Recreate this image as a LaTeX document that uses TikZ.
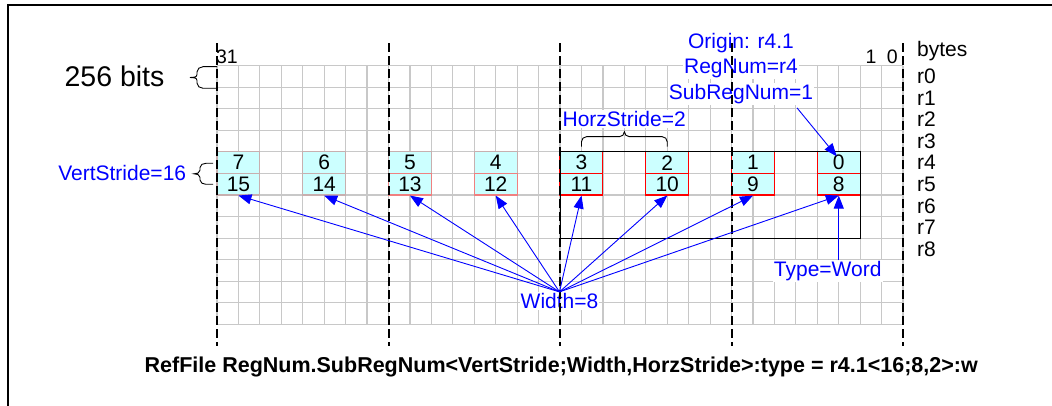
\documentclass[tikz,border=0pt]{standalone}
\usepackage{fontspec}
\setmainfont{Liberation Sans}
\usetikzlibrary{arrows.meta}
\definecolor{gridc}{RGB}{200,200,200}
\definecolor{cellfill}{RGB}{204,255,255}
\definecolor{bdA}{RGB}{200,175,175}
\definecolor{bdB}{RGB}{240,128,128}
\definecolor{bdC}{RGB}{255,0,0}
\definecolor{lblue}{RGB}{0,0,255}
\begin{document}
\begin{tikzpicture}[x=1pt,y=1pt,
  cell/.style={rectangle, minimum width=42.88pt, minimum height=21.55pt, inner sep=0pt, fill=cellfill, draw, line width=1.1pt, font=\fontsize{21}{25}\selectfont},
  lbl/.style={font=\fontsize{21}{25}\selectfont, inner sep=0pt},
  bl/.style={lbl, text=lblue},
  wbl/.style={bl, fill=white, inner sep=1pt},
  arr/.style={draw=lblue, line width=0.9pt, -{Triangle[length=13pt,width=10pt]}},
  vdash/.style={line width=2pt, dash pattern=on 9pt off 4pt},
  brc/.style={line width=0.9pt},
  gline/.style={gridc, line width=1.2pt}
]
\useasboundingbox (0,0) rectangle (1052,-406);
\fill[white] (0,0) rectangle (1052,-406);
% frame
\draw[line width=2pt] (8,-406) -- (8,-5) -- (1052,-5);
% grid
\foreach \i in {0,...,32} \draw[gline] (217+21.44*\i,-65.7) -- (217+21.44*\i,-324.3);
\foreach \j in {0,...,12} \draw[gline] (217,-65.7-21.55*\j) -- (903.08,-65.7-21.55*\j);
% cells
\node[cell, draw=bdC] (e0) at (838.76,-162.68) {0};
\node[cell, draw=bdC] (e1) at (753.00,-162.68) {1};
\node[cell, draw=bdC] (e2) at (667.24,-162.68) {2};
\node[cell, draw=bdC] (e3) at (581.48,-162.68) {3};
\node[cell, draw=bdA] (e4) at (495.72,-162.68) {4};
\node[cell, draw=bdA] (e5) at (409.96,-162.68) {5};
\node[cell, draw=bdA] (e6) at (324.20,-162.68) {6};
\node[cell, draw=bdA] (e7) at (238.44,-162.68) {7};
\node[cell, draw=bdC] (e8) at (838.76,-184.23) {8};
\node[cell, draw=bdC] (e9) at (753.00,-184.23) {9};
\node[cell, draw=bdC] (e10) at (667.24,-184.23) {10};
\node[cell, draw=bdC] (e11) at (581.48,-184.23) {11};
\node[cell, draw=bdB] (e12) at (495.72,-184.23) {12};
\node[cell, draw=bdB] (e13) at (409.96,-184.23) {13};
\node[cell, draw=bdA] (e14) at (324.20,-184.23) {14};
\node[cell, draw=bdA] (e15) at (238.44,-184.23) {15};
% labels with white background
\node[wbl, anchor=base] (hs) at (624.2,-126.7) {HorzStride=2};
\node[wbl, anchor=base] (orig1) at (741,-48.3) {Origin: r4.1};
\node[wbl, anchor=base] (orig2) at (741,-73.3) {RegNum=r4};
\node[wbl, anchor=base] (orig3) at (741,-99.3) {SubRegNum=1};
\node[wbl, anchor=base] (tw) at (827.7,-276.7) {Type=Word};
\node[wbl, anchor=base] (w8) at (559.5,-308.3) {Width=8};
% dashed byte-group lines
\foreach \i in {0,8,16,24,32} \draw[vdash] (217+21.44*\i,-43.3) -- (217+21.44*\i,-345.5);
% black region box
\draw[line width=1pt] (560.04,-151.9) rectangle (860.2,-238.1);
% other labels
\node[lbl, anchor=base, font=\fontsize{28.5}{30}\selectfont] (b256) at (114.5,-86.7) {256 bits};
\node[bl, anchor=base] (vs) at (122.2,-181) {VertStride=16};
\node[lbl, anchor=base, font=\fontsize{19.5}{22}\selectfont] (b31) at (227,-63.3) {31};
\node[lbl, anchor=base, font=\fontsize{19.5}{22}\selectfont] (b1) at (871,-63.3) {1};
\node[lbl, anchor=base, font=\fontsize{19.5}{22}\selectfont] (b0) at (892.4,-63.3) {0};
\node[lbl, anchor=base west] (bytes) at (917,-57) {bytes};
\foreach \j in {0,...,8} \node[lbl, anchor=west] (r\j) at (917,-76.475-21.55*\j) {r\j};
\node[lbl, anchor=base, font=\bfseries\fontsize{21.5}{25}\selectfont] (title) at (561.2,-372.7) {RefFile RegNum.SubRegNum<VertStride;Width,HorzStride>:type = r4.1<16;8,2>:w};
% braces
\draw[brc] (217,-66.7) -- (203,-66.7) to[out=180,in=90] (197,-72) -- (197,-74.5) to[out=270,in=0] (190,-77.5) to[out=0,in=90] (197,-80.5) -- (197,-83) to[out=270,in=180] (203,-88.3) -- (217,-88.3);
\draw[brc] (213,-163.3) -- (206,-163.3) to[out=180,in=90] (200,-167.5) -- (200,-170.3) to[out=270,in=0] (194,-173.8) to[out=0,in=90] (200,-177.3) -- (200,-180) to[out=270,in=180] (206,-184.3) -- (213,-184.3);
\draw[brc] (581.5,-146.7) -- (581.5,-141.7) to[out=90,in=180] (586.5,-136.7) -- (619.4,-136.7) to[out=0,in=270] (624.4,-131.7) to[out=270,in=180] (629.4,-136.7) -- (662.2,-136.7) to[out=0,in=90] (667.2,-141.7) -- (667.2,-146.7);
% arrows
\foreach \k in {8,...,15} \draw[arr] (w8.north) -- (e\k.south);
\draw[arr] ([xshift=56pt,yshift=-3pt]orig3.south) -- ([shift={(-2pt,-5pt)}]e0.north);
\draw[arr] (tw.north -| e8.south) -- (e8.south);
\end{tikzpicture}
\end{document}
